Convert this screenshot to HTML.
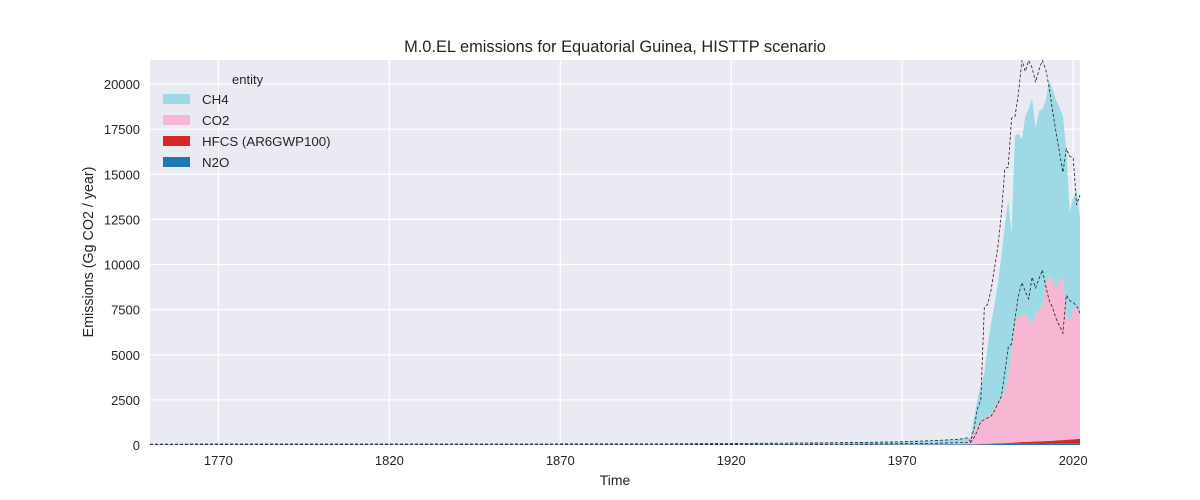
<!DOCTYPE html>
<html><head><meta charset="utf-8"><style>
html,body{margin:0;padding:0;background:#fff;}
svg{display:block;font-family:"Liberation Sans",sans-serif;}
</style></head><body>
<svg id="chart" width="1200" height="500" xmlns="http://www.w3.org/2000/svg">
<rect x="150" y="60" width="930" height="385" fill="#eaeaf2"/>
<g id="grid"></g><g id="areas"></g><g id="lines"></g><g id="ticks"></g>
<text x="615" y="52" text-anchor="middle" font-size="16.4" fill="#262626">M.0.EL emissions for Equatorial Guinea, HISTTP scenario</text>
<text x="615" y="485" text-anchor="middle" font-size="14" fill="#262626">Time</text>
<text transform="translate(93,252) rotate(-90)" text-anchor="middle" font-size="14.3" fill="#262626">Emissions (Gg CO2 / year)</text>
<g font-size="13.3" fill="#262626">
<text x="232" y="84" font-size="13">entity</text>
<g><rect x="163" y="94" width="27" height="10" fill="#9edae5"/><text x="202" y="104">CH4</text></g>
<g><rect x="163" y="115" width="27" height="10" fill="#f7b6d2"/><text x="202" y="125">CO2</text></g>
<g><rect x="163" y="136" width="27" height="10" fill="#d62728"/><text x="202" y="146">HFCS (AR6GWP100)</text></g>
<g><rect x="163" y="157" width="27" height="10" fill="#1f77b4"/><text x="202" y="167">N2O</text></g>
</g>
</svg>
<script>
const years=[1750,1850,1900,1950,1960,1970,1980,1985,1988,1989,1990,1991,1992,1993,1994,1995,1996,1997,1998,1999,2000,2001,2002,2003,2004,2005,2006,2007,2008,2009,2010,2011,2012,2013,2014,2015,2016,2017,2018,2019,2020,2021,2022];
const n2o=[15,15,15,20,25,30,35,40,40,40,40,42,44,46,48,50,52,54,56,58,60,62,64,66,68,70,72,74,76,78,80,82,84,86,88,90,92,94,96,98,100,100,100];
const hfcs=[0,0,0,0,0,0,0,0,0,0,0,3,6,9,12,18,25,30,35,40,45,55,65,75,85,95,100,105,110,115,120,125,130,140,150,160,170,180,190,200,210,230,250];
const co2=[10,10,10,20,30,40,60,80,100,100,300,700,1000,1250,1400,1500,1650,2000,2300,2600,2800,3700,5100,6800,7000,7000,7050,6900,6400,7100,7300,7600,8700,9200,8900,8400,8800,9000,7000,6500,7200,7400,6800];
const ch4=[25,30,35,80,95,110,155,180,210,260,60,750,1450,1990,2530,3920,5060,5700,6580,7770,9260,9740,6530,10210,10090,9780,11020,11560,12640,10230,11020,10810,10200,10780,10570,10460,9650,8940,9120,6110,6200,6370,5450];
const prevTotal=[50,55,60,120,150,180,250,300,350,400,200,900,2000,2500,7600,7800,8600,9800,11000,12800,15300,15400,18100,18200,19500,21300,20700,21300,20900,20100,20800,21300,20800,19800,18500,17300,16200,15100,16400,16000,15900,13300,13850];
const prevLower=[25,25,25,40,55,70,95,120,140,140,150,400,800,1300,1400,1500,1600,1900,2300,2700,4000,5400,5600,7000,8300,9000,8500,8100,9300,8700,9200,9700,8800,8000,7600,7000,6600,6200,8300,8000,7900,7700,7300];
const xTicks=[1770,1820,1870,1920,1970,2020];
const yTicks=[0,2500,5000,7500,10000,12500,15000,17500,20000];

const NS="http://www.w3.org/2000/svg";
const X0=150,X1=1080,Y0=445,Y1=60,yrMin=1750,yrMax=2022,vMax=21330;
const xs=y=>X0+(y-yrMin)/(yrMax-yrMin)*(X1-X0);
const ys=v=>Y0-v/vMax*(Y0-Y1);
function mk(tag,attrs,parent){const e=document.createElementNS(NS,tag);for(const k in attrs)e.setAttribute(k,attrs[k]);parent.appendChild(e);return e;}
const grid=document.getElementById('grid'),ticks=document.getElementById('ticks');
xTicks.forEach(t=>{
 const l=mk('line',{x1:xs(t),x2:xs(t),y1:Y1,y2:Y0,stroke:'#fff','stroke-width':1.2},grid);
 
 
 const tx=mk('text',{x:xs(t),y:Y0+20,'text-anchor':'middle','font-size':13,fill:'#262626'},ticks);
 tx.textContent=t;
 
 
});
yTicks.forEach(t=>{
 const l=mk('line',{x1:X0,x2:X1,y1:ys(t),y2:ys(t),stroke:'#fff','stroke-width':1.2},grid);
 
 
 const tx=mk('text',{x:X0-10,y:ys(t)+5,'text-anchor':'end','font-size':13,fill:'#262626'},ticks);
 tx.textContent=t;
 
 
});
const series=[['n2o-area',n2o,'#1f77b4'],['hfcs-area',hfcs,'#d62728'],['co2-area',co2,'#f7b6d2'],['ch4-area',ch4,'#9edae5']];
let base=years.map(()=>0);
const areas=document.getElementById('areas');
series.forEach(([name,vals,col])=>{
 const top=base.map((b,i)=>b+vals[i]);
 let d='M'+years.map((y,i)=>xs(y).toFixed(1)+','+ys(top[i]).toFixed(1)).join('L');
 for(let i=years.length-1;i>=0;i--)d+='L'+xs(years[i]).toFixed(1)+','+ys(base[i]).toFixed(1);
 const p=mk('path',{d:d+'Z',fill:col},areas);
 
 
 base=top;
});
const lines=document.getElementById('lines');
[['previous-total-line',prevTotal],['previous-lower-line',prevLower]].forEach(([name,vals])=>{
 const p=mk('polyline',{points:years.map((y,i)=>xs(y).toFixed(1)+','+ys(vals[i]).toFixed(1)).join(' '),fill:'none',stroke:'#222','stroke-width':0.8,'stroke-dasharray':'3,2'},lines);
 
 
});
</script>
</body></html>
